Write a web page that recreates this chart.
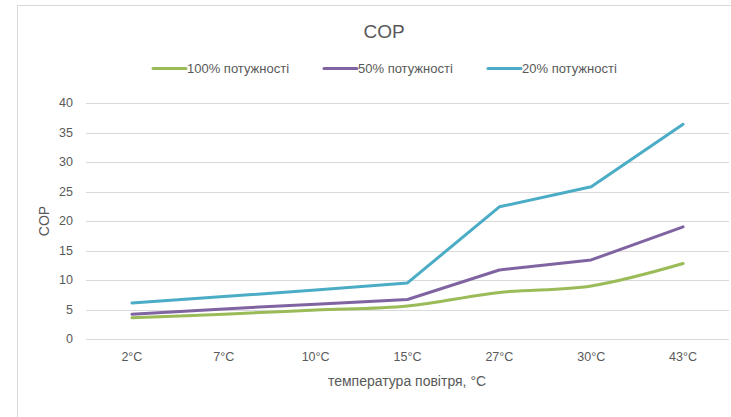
<!DOCTYPE html>
<html>
<head>
<meta charset="utf-8">
<script src="https://cdn.jsdelivr.net/npm/d3@7"></script>
<style>
  body { margin: 0; background: #fff; }
  text { font-family: "Liberation Sans", Arial, sans-serif; fill: #595959; }
</style>
</head>
<body>
<div id="chart"></div>
<script>
let categories = ['2°C', '7°C', '10°C', '15°C', '27°C', '30°C', '43°C']
let full = [3.6, 4.2, 4.9, 5.6, 7.9, 9.0, 12.8]
let half = [4.2, 5.1, 5.9, 6.7, 11.7, 13.4, 19.0]
let low = [6.1, 7.2, 8.3, 9.5, 22.4, 25.8, 36.4]
let yTicks = [0, 5, 10, 15, 20, 25, 30, 35, 40]

let series = [
  { name: '100% потужності', values: full, color: '#9bbb59', smooth: true },
  { name: '50% потужності', values: half, color: '#8064a2', smooth: false },
  { name: '20% потужності', values: low, color: '#4bacc6', smooth: false }
]

let width = 731
let height = 417
let margin = { top: 103, left: 86, right: 2, bottom: 78 }

let svg = d3
  .select('#chart')
  .append('svg')
  .attr('width', width)
  .attr('height', height)

// chart area border (only left + top visible)
svg.append('line')
  .attr('x1', 17.5).attr('x2', 17.5)
  .attr('y1', 5.5).attr('y2', height)
  .attr('stroke', '#d9d9d9')
svg.append('line')
  .attr('x1', 17.5).attr('x2', width)
  .attr('y1', 5.5).attr('y2', 5.5)
  .attr('stroke', '#d9d9d9')

let xScale = d3
  .scaleBand()
  .domain(categories)
  .range([margin.left, width - margin.right])

let yScale = d3
  .scaleLinear()
  .domain([0, 40])
  .range([height - margin.bottom, margin.top])

// gridlines
svg
  .selectAll('.grid')
  .data(yTicks)
  .enter()
  .append('line')
  .attr('class', 'grid')
  .attr('x1', margin.left)
  .attr('x2', width - margin.right)
  .attr('y1', d => Math.round(yScale(d)) + 0.5)
  .attr('y2', d => Math.round(yScale(d)) + 0.5)
  .attr('stroke', '#d9d9d9')
  .attr('stroke-width', 1)

// y tick labels
svg
  .selectAll('.y-label')
  .data(yTicks)
  .enter()
  .append('text')
  .attr('class', 'y-label')
  .attr('x', 73)
  .attr('y', d => yScale(d))
  .attr('dy', '0.35em')
  .attr('text-anchor', 'end')
  .attr('font-size', 12.5)
  .text(d => d)

// x tick labels
svg
  .selectAll('.x-label')
  .data(categories)
  .enter()
  .append('text')
  .attr('class', 'x-label')
  .attr('x', d => xScale(d) + xScale.bandwidth() / 2)
  .attr('y', 361)
  .attr('text-anchor', 'middle')
  .attr('font-size', 12.5)
  .text(d => d)

// axis titles
svg.append('text')
  .attr('x', 407)
  .attr('y', 386)
  .attr('text-anchor', 'middle')
  .attr('font-size', 14)
  .text('температура повітря, °C')

svg.append('text')
  .attr('transform', 'translate(49,221)rotate(-90)')
  .attr('text-anchor', 'middle')
  .attr('font-size', 14)
  .text('COP')

// title
svg.append('text')
  .attr('x', 384)
  .attr('y', 38)
  .attr('text-anchor', 'middle')
  .attr('font-size', 19)
  .text('COP')

// lines
series.forEach(s => {
  let line = d3
    .line()
    .x((d, i) => xScale(categories[i]) + xScale.bandwidth() / 2)
    .y(d => yScale(d))
    .curve(s.smooth ? d3.curveCatmullRom.alpha(0.5) : d3.curveLinear)

  svg.append('path')
    .datum(s.values)
    .attr('d', line)
    .attr('fill', 'none')
    .attr('stroke', s.color)
    .attr('stroke-width', 3)
    .attr('stroke-linecap', 'round')
    .attr('stroke-linejoin', 'round')
})

// legend
let legendX = [153, 324, 488]
let legend = svg
  .selectAll('.legend')
  .data(series)
  .enter()
  .append('g')
  .attr('class', 'legend')
  .attr('transform', (d, i) => `translate(${legendX[i]}, 68.5)`)

legend.append('line')
  .attr('x1', 0).attr('x2', 33)
  .attr('stroke', d => d.color)
  .attr('stroke-width', 3)
  .attr('stroke-linecap', 'round')

legend.append('text')
  .attr('x', 34)
  .attr('dy', '0.35em')
  .attr('font-size', 13)
  .text(d => d.name)
</script>
</body>
</html>
